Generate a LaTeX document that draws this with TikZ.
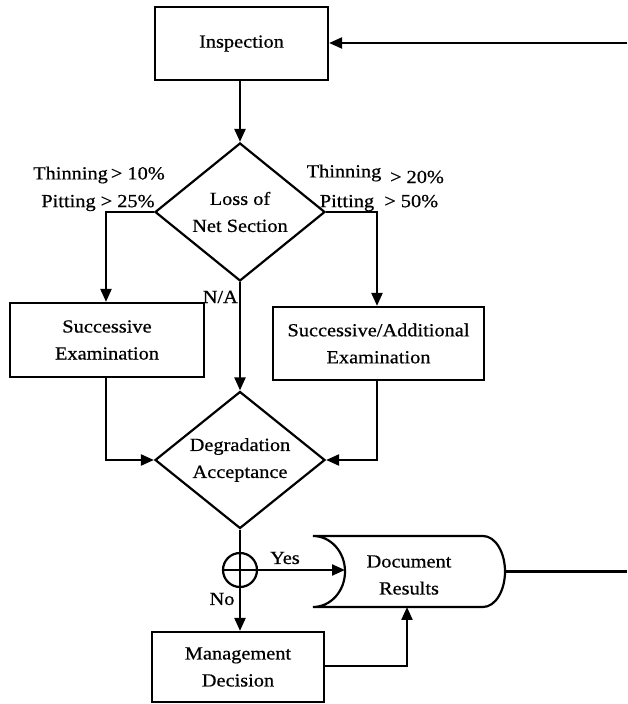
\documentclass[tikz,border=0pt]{standalone}
\usepackage{fontspec}
\setmainfont[FakeStretch=1.1,FakeBold=0.6]{Liberation Serif}
\usetikzlibrary{arrows.meta,shapes.geometric}
\begin{document}
\begin{tikzpicture}[x=1pt,y=1pt,
  every node/.style={font=\fontsize{18.5}{27}\selectfont},
  box/.style={draw,line width=2.2pt,rectangle,inner sep=0pt,align=center},
  dia/.style={draw,line width=2.2pt,diamond,inner sep=0pt,aspect=1.23,minimum width=170pt,minimum height=137pt,align=center},
  conn/.style={line width=2.2pt},
  arr/.style={line width=2.2pt,-{Triangle[length=13pt,width=11pt]}},
  lbl/.style={inner sep=0pt,align=center}]
\useasboundingbox (0,0) rectangle (627,704);
% nodes
\node[box,minimum width=173pt,minimum height=73pt] (insp) at (241.5,660.5) {Inspection};
\node[dia,minimum height=138pt] (loss) at (240,492) {Loss of\\Net Section};
\node[box,minimum width=194pt,minimum height=74pt] (se) at (107,364) {Successive\\Examination};
\node[box,minimum width=211pt,minimum height=73pt] (sae) at (378.5,360.5) {Successive/Additional\\Examination};
\node[dia] (deg) at (240,244) {Degradation\\Acceptance};
\node[draw,circle,line width=2.2pt,minimum size=34pt,inner sep=0pt] (junc) at (240,134) {};
\node[box,minimum width=172pt,minimum height=70pt] (md) at (238,37) {Management\\Decision};
% Document Results (stored data shape)
\draw[line width=2.2pt] (313,168) -- (483,168) arc[start angle=90,end angle=-90,x radius=22,y radius=35.5]
  -- (313,97) arc[start angle=-90,end angle=90,x radius=32,y radius=35.5] -- cycle;
\node[lbl] (doc) at (409,129) {Document\\Results};
\coordinate (docL) at (345,134);
\coordinate (docR) at (505,132.5);
\coordinate (docB) at (407,97);
\coordinate (rightA) at (627,661);
\coordinate (rightB) at (627,132.5);
% connectors
\draw[arr] (rightA) -- (insp.east |- rightA);
\draw[arr] (insp.south -| loss.north) -- (loss.north);
\draw[arr] (loss.west) -| (se.north -| 106,0);
\draw[arr] (loss.east) -| (sae.north -| 377,0);
\draw[arr] (loss.south) -- (deg.north);
\draw[arr] (se.south -| 106,0) |- (deg.west);
\draw[arr] (sae.south -| 377,0) |- (deg.east);
\draw[arr] (deg.south) -- (md.north -| deg.south);
\draw[conn] (junc.west) -- (junc.east);
\draw[arr] (junc.east) -- (docL);
\draw[conn] (docR) -- (rightB);
\draw[arr] (md.east |- 0,38) -| (docB);
% labels
\node[lbl] at (99,529) {Thinning\,> 10\%};
\node[lbl] at (98,501) {Pitting > 25\%};
\node[lbl] at (344,531) {Thinning};
\node[lbl] at (417,527) {> 20\%};
\node[lbl] at (379,501) {Pitting \ > 50\%};
\node[lbl,anchor=east] at (238,407) {N/A};
\node[lbl] at (285,146) {Yes};
\node[lbl] at (222,105) {No};
\end{tikzpicture}
\end{document}
